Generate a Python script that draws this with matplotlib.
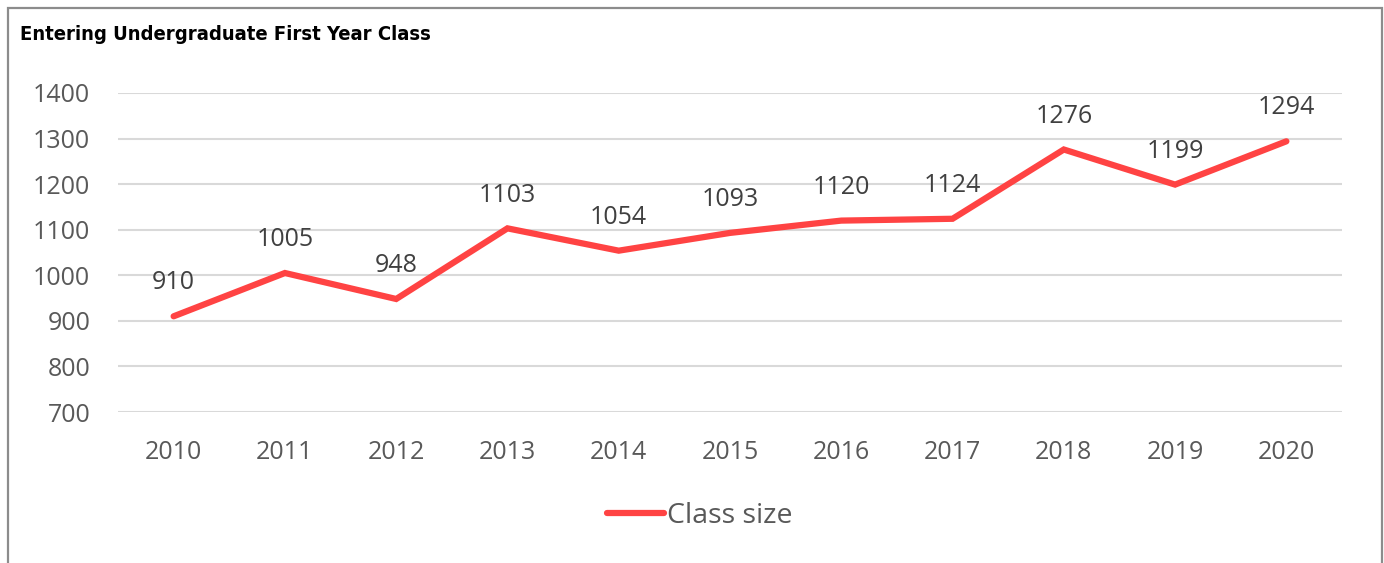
import matplotlib
matplotlib.use("Agg")
import matplotlib.pyplot as plt
from matplotlib.patches import Rectangle

years = ["2010", "2011", "2012", "2013", "2014", "2015", "2016", "2017", "2018", "2019", "2020"]
class_size = [910, 1005, 948, 1103, 1054, 1093, 1120, 1124, 1276, 1199, 1294]
y_ticks = [700, 800, 900, 1000, 1100, 1200, 1300, 1400]

W, H = 1384, 563
fig = plt.figure(figsize=(W / 100, H / 100), dpi=100)
plt.rcParams['font.family'] = ['Open Sans', 'DejaVu Sans']

# outer chart border (bottom edge is cut off in the source)
fig.patches.append(Rectangle((8 / W, -0.1), (1382 - 8) / W, 1.1 - 8 / H,
                             transform=fig.transFigure, fill=False,
                             edgecolor='#8c8c8c', linewidth=1.6))

ax = fig.add_axes([118 / W, 1 - 412 / H, (1342 - 118) / W, (412 - 93) / H])
x = list(range(len(years)))
ax.plot(x, class_size, color='#ff4343', linewidth=4.5, solid_capstyle='round',
        solid_joinstyle='miter', label='Class size', zorder=3)
for xi, v in zip(x, class_size):
    ax.annotate(str(v), (xi, v), xytext=(0, 15), textcoords='offset points',
                ha='center', va='bottom', fontsize=18, color='#404040')

ax.set_xlim(-0.5, len(years) - 0.5)
ax.set_ylim(700, 1400)
ax.set_yticks(y_ticks)
ax.set_xticks(x)
ax.set_xticklabels(years)
ax.grid(axis='y', color='#d9d9d9', linewidth=1.5)
ax.set_axisbelow(True)
for s in ax.spines.values():
    s.set_visible(False)
ax.tick_params(length=0, labelsize=18, labelcolor='#595959')
ax.tick_params(axis='y', pad=20)
ax.tick_params(axis='x', pad=20)

fig.text(20 / W, 1 - 35 / H, 'Entering Undergraduate First Year Class',
         family='DejaVu Sans', fontstretch='condensed', weight='bold',
         fontsize=14.5, va='center', ha='left', color='black')

leg = fig.legend(loc='center', bbox_to_anchor=(700 / W, 1 - 516 / H), frameon=False,
                 fontsize=20.5, handlelength=2.0, handletextpad=0.1,
                 labelcolor='#595959')

fig.savefig('out.png', dpi=100)
